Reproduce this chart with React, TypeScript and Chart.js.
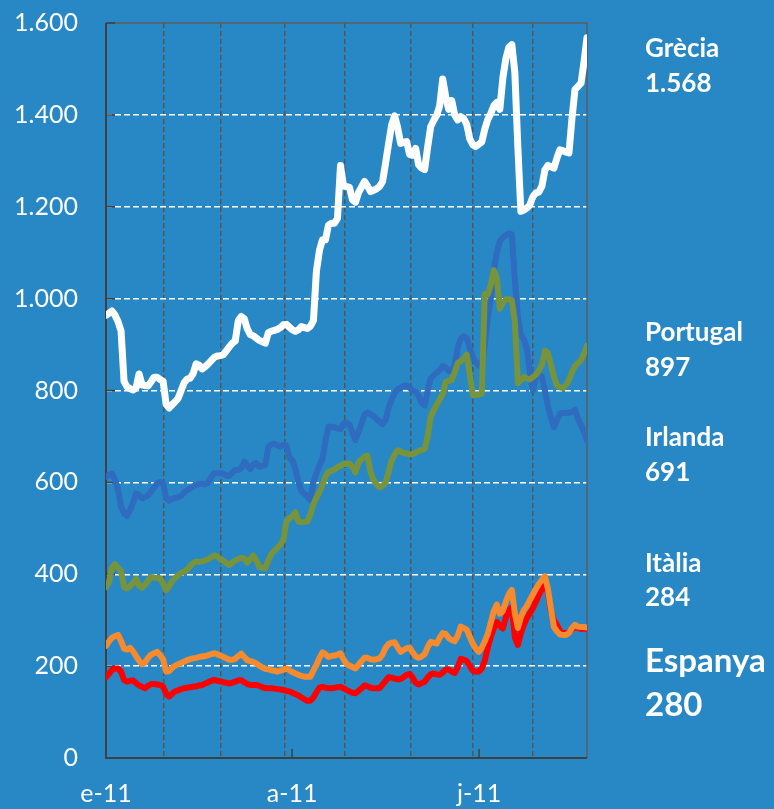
import React, { useEffect, useRef } from 'react';
import { Chart, registerables } from 'chart.js';

Chart.register(...registerables);

// Spread series (basis points), one value per trading day from early January 2011
const seriesNames = ['Grècia', 'Portugal', 'Irlanda', 'Itàlia', 'Espanya'];

const grecia = [
  964, 968, 973, 964, 950, 930, 820, 808, 804, 801, 806, 836, 812, 811, 810, 819, 829, 829, 824, 820,
  770, 762, 769, 776, 783, 800, 817, 825, 827, 837, 858, 855, 847, 852, 858, 865, 872, 875, 876, 878,
  886, 895, 903, 908, 952, 961, 956, 934, 922, 919, 914, 909, 906, 903, 926, 929, 931, 933, 937, 943,
  944, 938, 932, 929, 932, 939, 937, 935, 940, 952, 1060, 1105, 1128, 1128, 1160, 1164, 1164, 1175, 1290, 1245,
  1244, 1242, 1215, 1210, 1231, 1243, 1255, 1245, 1233, 1236, 1239, 1244, 1255, 1295, 1337, 1378, 1398, 1373, 1338, 1340,
  1342, 1314, 1312, 1327, 1291, 1284, 1281, 1330, 1374, 1388, 1399, 1420, 1478, 1440, 1412, 1431, 1400, 1389, 1396, 1392,
  1379, 1348, 1335, 1331, 1336, 1341, 1369, 1390, 1403, 1420, 1427, 1412, 1480, 1522, 1547, 1553, 1492, 1330, 1190, 1193,
  1197, 1204, 1222, 1230, 1232, 1245, 1280, 1290, 1287, 1284, 1306, 1324, 1322, 1319, 1317, 1392, 1455, 1462, 1469, 1515,
  1568,
];

const portugal = [
  372, 383, 415, 422, 414, 407, 372, 369, 374, 381, 390, 375, 371, 377, 386, 394, 393, 392, 391, 380,
  365, 374, 385, 392, 398, 403, 406, 410, 418, 424, 428, 427, 428, 430, 433, 437, 441, 439, 433, 429,
  424, 420, 425, 430, 433, 436, 434, 425, 433, 441, 430, 416, 414, 413, 430, 444, 451, 457, 465, 475,
  515, 522, 526, 535, 514, 513, 514, 515, 530, 552, 567, 579, 594, 613, 623, 625, 628, 633, 636, 640,
  640, 641, 633, 622, 643, 650, 656, 658, 622, 605, 596, 589, 592, 600, 622, 648, 660, 670, 667, 664,
  663, 661, 661, 665, 668, 671, 673, 700, 743, 757, 769, 780, 792, 819, 821, 823, 840, 860, 864, 870,
  878, 835, 790, 790, 791, 793, 1010, 1009, 1030, 1062, 1045, 978, 991, 998, 999, 996, 950, 816, 823, 830,
  826, 824, 829, 834, 843, 856, 887, 882, 856, 830, 811, 807, 805, 812, 823, 840, 853, 860, 866, 880,
  897,
];

const irlanda = [
  612, 617, 619, 606, 585, 548, 532, 527, 540, 555, 576, 573, 565, 568, 572, 580, 589, 598, 601, 598,
  566, 560, 564, 566, 568, 571, 578, 583, 587, 591, 594, 597, 597, 596, 600, 611, 620, 620, 620, 619,
  615, 614, 621, 627, 627, 631, 645, 637, 629, 639, 642, 634, 636, 638, 677, 683, 684, 681, 678, 682,
  680, 654, 648, 629, 601, 581, 575, 569, 562, 601, 620, 637, 650, 690, 721, 721, 720, 717, 716, 728,
  730, 726, 708, 692, 710, 728, 748, 752, 748, 744, 738, 732, 727, 736, 762, 780, 793, 802, 806, 810,
  811, 806, 800, 797, 788, 773, 767, 800, 826, 833, 839, 844, 853, 850, 842, 844, 855, 893, 913, 918,
  914, 893, 873, 862, 854, 855, 900, 960, 1000, 1060, 1100, 1125, 1133, 1138, 1142, 1140, 1040, 960, 920, 912,
  890, 840, 800, 830, 835, 830, 800, 766, 742, 720, 735, 750, 751, 751, 752, 753, 758, 738, 725, 710,
  691,
];

const italia = [
  244, 254, 262, 265, 268, 255, 238, 236, 240, 232, 222, 212, 204, 208, 218, 225, 228, 231, 224, 215,
  188, 189, 196, 201, 204, 207, 210, 213, 215, 217, 218, 220, 221, 222, 224, 226, 228, 226, 223, 220,
  217, 214, 214, 216, 222, 227, 220, 213, 211, 209, 206, 201, 197, 194, 193, 191, 190, 188, 190, 192,
  195, 191, 187, 184, 181, 179, 177, 177, 177, 190, 203, 218, 230, 226, 220, 222, 223, 225, 228, 215,
  205, 201, 198, 195, 203, 211, 218, 218, 215, 214, 215, 217, 225, 240, 248, 251, 252, 241, 231, 235,
  239, 240, 230, 221, 218, 221, 226, 241, 253, 251, 249, 262, 272, 270, 261, 257, 254, 266, 286, 283,
  279, 264, 249, 238, 231, 240, 254, 270, 295, 320, 334, 314, 320, 340, 357, 366, 315, 283, 306, 322,
  331, 344, 356, 368, 379, 388, 396, 368, 325, 285, 276, 269, 268, 268, 272, 283, 290, 286, 285, 285,
  284,
];

const espanya = [
  176, 183, 192, 195, 195, 188, 170, 166, 168, 169, 163, 158, 155, 152, 157, 161, 161, 160, 159, 155,
  140, 134, 140, 145, 147, 150, 152, 153, 154, 155, 156, 158, 159, 162, 165, 168, 170, 168, 167, 165,
  164, 162, 164, 166, 169, 169, 165, 161, 159, 159, 159, 157, 154, 152, 152, 152, 151, 150, 149, 148,
  146, 145, 142, 139, 136, 132, 128, 124, 125, 132, 143, 153, 155, 153, 152, 152, 153, 154, 155, 152,
  148, 145, 142, 141, 146, 152, 158, 156, 153, 152, 152, 152, 160, 168, 176, 175, 173, 171, 172, 176,
  181, 183, 175, 164, 160, 163, 166, 175, 182, 184, 182, 181, 186, 192, 193, 188, 185, 198, 216, 214,
  211, 200, 190, 188, 188, 195, 212, 240, 264, 282, 296, 288, 282, 305, 322, 328, 262, 246, 272, 290,
  305, 315, 326, 340, 355, 368, 380, 360, 320, 300, 290, 276, 272, 272, 273, 280, 286, 283, 281, 282,
  280,
];

const seriesValues = [grecia, portugal, irlanda, italia, espanya];
const seriesColors = ['#FFFFFF', '#77933C', '#2F6BBE', '#F58A2E', '#FF0000'];
const seriesWidths = [7, 6, 6, 6, 6];

// x axis (trading-day index)
const xTickLabels = ['e-11', 'a-11', 'j-11'];
const xTickDays = [0, 61.9, 124.1];
const monthGridDays = [19.06, 38.25, 59.54, 79.5, 101.46, 121.98, 141.94];
const yTicks = [0, 200, 400, 600, 800, 1000, 1200, 1400, 1600];

const dayIndex = grecia.map((_, i) => i);

// right-hand labels layout (cap centre y, font size, line gap)
const labelLayout = [
  { y: 48, size: 26, gap: 35 },
  { y: 332, size: 26, gap: 35 },
  { y: 437, size: 26, gap: 35 },
  { y: 563, size: 26, gap: 34 },
  { y: 660, size: 33, gap: 44 },
];

const BG = '#2888C6';
const FONT = 'Lato, "Open Sans", sans-serif';

function fmt(v: number): string {
  return Math.round(v).toString().replace(/\B(?=(\d{3})+(?!\d))/g, '.');
}

const framePlugin = {
  id: 'frame',
  beforeDatasetsDraw(chart: any) {
    const { ctx, chartArea } = chart;
    const { left, top, right, bottom } = chartArea;
    const xs = chart.scales.x;
    const ys = chart.scales.y;
    ctx.save();
    ctx.setLineDash([]);
    ctx.strokeStyle = '#5c5c5c';
    ctx.lineWidth = 1.5;
    ctx.beginPath();
    ctx.moveTo(left, top);
    ctx.lineTo(right, top);
    ctx.lineTo(right, bottom);
    ctx.stroke();
    ctx.strokeStyle = '#404040';
    ctx.lineWidth = 2;
    ctx.beginPath();
    ctx.moveTo(left, top);
    ctx.lineTo(left, bottom);
    ctx.lineTo(right, bottom);
    ctx.stroke();
    ctx.lineWidth = 1.5;
    ctx.beginPath();
    yTicks.forEach((v) => {
      const y = ys.getPixelForValue(v);
      ctx.moveTo(left, y);
      ctx.lineTo(left + 9, y);
    });
    xTickDays.forEach((d) => {
      const x = xs.getPixelForValue(d);
      ctx.moveTo(x, bottom);
      ctx.lineTo(x, bottom - 9);
    });
    ctx.stroke();
    ctx.restore();
  },
};

const labelsPlugin = {
  id: 'endLabels',
  afterDraw(chart: any) {
    const { ctx } = chart;
    ctx.save();
    ctx.fillStyle = '#FFFFFF';
    ctx.textAlign = 'left';
    ctx.textBaseline = 'alphabetic';
    seriesNames.forEach((name, i) => {
      const lay = labelLayout[i];
      const vals = seriesValues[i];
      const last = vals[vals.length - 1];
      ctx.font = `bold ${lay.size}px ${FONT}`;
      const base = lay.y + lay.size * 0.36;
      ctx.fillText(name, 645, base);
      ctx.fillText(fmt(last), 645, base + lay.gap);
    });
    ctx.restore();
  },
};

export default function App() {
  const ref = useRef<HTMLCanvasElement | null>(null);

  useEffect(() => {
    if (!ref.current) return;
    const chart = new Chart(ref.current, {
      type: 'line',
      data: {
        labels: dayIndex,
        datasets: seriesNames.map((name, i) => ({
          label: name,
          data: seriesValues[i],
          borderColor: seriesColors[i],
          backgroundColor: seriesColors[i],
          borderWidth: seriesWidths[i],
          pointRadius: 0,
          tension: 0,
          fill: false,
          borderCapStyle: 'round' as const,
          borderJoinStyle: 'round' as const,
        })),
      },
      options: {
        animation: false,
        responsive: false,
        maintainAspectRatio: false,
        layout: { autoPadding: false, padding: { top: 23, right: 187, left: 0, bottom: 0 } },
        plugins: {
          legend: { display: false },
          tooltip: { enabled: false },
        },
        scales: {
          x: {
            type: 'linear',
            min: 0,
            max: 160,
            afterBuildTicks: (scale: any) => {
              scale.ticks = [...monthGridDays, ...xTickDays]
                .sort((a, b) => a - b)
                .map((v) => ({ value: v }));
            },
            afterFit: (scale: any) => {
              scale.height = 51;
              scale.paddingLeft = 0;
              scale.paddingRight = 0;
            },
            grid: {
              color: (c: any) =>
                c.tick && monthGridDays.includes(c.tick.value) ? '#555555' : 'rgba(0,0,0,0)',
              lineWidth: 1.5,
              drawTicks: false,
            },
            border: { display: false, dash: [5, 3] },
            ticks: {
              autoSkip: false,
              maxRotation: 0,
              color: '#FFFFFF',
              font: { family: FONT, size: 25 },
              padding: 21,
              callback: (value: any) => {
                const k = xTickDays.indexOf(value);
                return k >= 0 ? xTickLabels[k] : '';
              },
            },
          },
          y: {
            min: 0,
            max: 1600,
            afterBuildTicks: (scale: any) => {
              scale.ticks = yTicks.map((v) => ({ value: v }));
            },
            afterFit: (scale: any) => {
              scale.width = 106;
              scale.paddingTop = 0;
              scale.paddingBottom = 0;
            },
            grid: {
              color: (c: any) =>
                c.tick && (c.tick.value === 0 || c.tick.value === 1600)
                  ? 'rgba(0,0,0,0)'
                  : '#FFFFFF',
              lineWidth: 1.5,
              drawTicks: false,
            },
            border: { display: false, dash: [6, 3] },
            ticks: {
              color: '#FFFFFF',
              font: { family: FONT, size: 25 },
              padding: 28,
              callback: (value: any) => fmt(Number(value)),
            },
          },
        },
      },
      plugins: [framePlugin, labelsPlugin],
    });
    return () => chart.destroy();
  }, []);

  return (
    <div
      style={{
        position: 'fixed',
        left: 0,
        top: 0,
        width: 774,
        height: 809,
        background: BG,
        overflow: 'hidden',
      }}
    >
      <canvas ref={ref} width={774} height={809} style={{ display: 'block' }} />
    </div>
  );
}
